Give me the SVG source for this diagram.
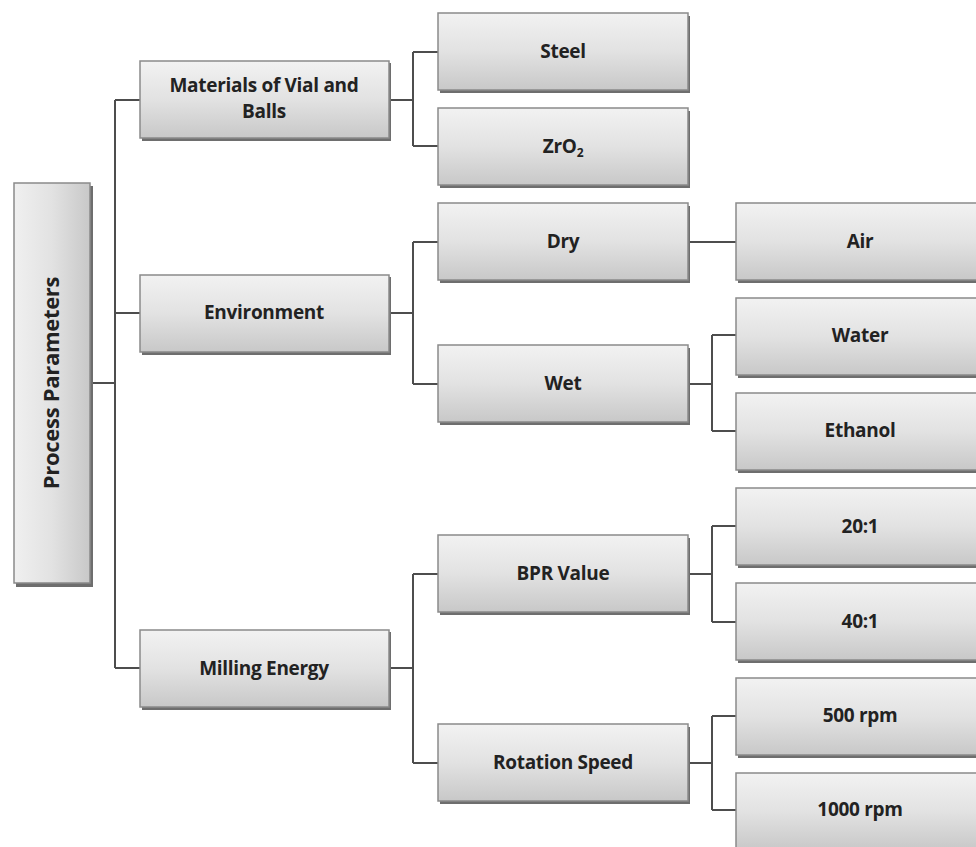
<svg xmlns="http://www.w3.org/2000/svg" width="976" height="847" viewBox="0 0 976 847">
<defs>
<linearGradient id="g" x1="0" y1="0" x2="0" y2="1">
<stop offset="0" stop-color="#f2f2f2"/>
<stop offset="0.5" stop-color="#e2e2e2"/>
<stop offset="1" stop-color="#c8c8c8"/>
</linearGradient>
<linearGradient id="gr" x1="0" y1="0" x2="1" y2="0">
<stop offset="0" stop-color="#f0f0f0"/>
<stop offset="0.5" stop-color="#e2e2e2"/>
<stop offset="1" stop-color="#c8c8c8"/>
</linearGradient>
</defs>
<style>
.sh{fill:#6e6e6e;}
.bx{fill:url(#g);stroke:#8a8a8a;stroke-width:1.5;}
.t{font-family:"Open Sans","Liberation Sans",sans-serif;font-weight:bold;font-size:19px;fill:#222222;text-anchor:middle;letter-spacing:-0.3px;}
.c{fill:none;stroke:#4d4d4d;stroke-width:2;}
</style>
<rect width="976" height="847" fill="#ffffff"/>
<g id="connectors">
<path class="c" d="M91 383 H115 M115 100 V668 M115 100 H140 M115 313 H140 M115 668 H140"/>
<path class="c" d="M389 100 H413 M413 52 V146 M413 52 H438 M413 146 H438"/>
<path class="c" d="M389 313 H413 M413 242 V384 M413 242 H438 M413 384 H438"/>
<path class="c" d="M389 668 H413 M413 574 V763 M413 574 H438 M413 763 H438"/>
<path class="c" d="M688 242 H736"/>
<path class="c" d="M688 384 H712 M712 335 V431 M712 335 H736 M712 431 H736"/>
<path class="c" d="M688 574 H712 M712 526 V622 M712 526 H736 M712 622 H736"/>
<path class="c" d="M688 763 H712 M712 716 V810 M712 716 H736 M712 810 H736"/>
</g>
<g id="root">
<rect class="sh" x="16" y="186" width="77" height="401"/>
<rect x="14" y="183" width="76" height="400" fill="url(#gr)" stroke="#8a8a8a" stroke-width="1.5"/>
<text class="t" transform="translate(52 383) rotate(-90)" dy="7" style="font-size:22px">Process Parameters</text>
</g>
<g id="materials">
<rect class="sh" x="142" y="63" width="249" height="78"/>
<rect class="bx" x="140" y="61" width="249" height="77"/>
<text class="t" x="264" y="92">Materials of Vial and</text>
<text class="t" x="264" y="118">Balls</text>
</g>
<g id="environment">
<rect class="sh" x="142" y="277" width="249" height="78"/>
<rect class="bx" x="140" y="275" width="249" height="77"/>
<text class="t" x="264" y="319">Environment</text>
</g>
<g id="milling">
<rect class="sh" x="142" y="632" width="249" height="78"/>
<rect class="bx" x="140" y="630" width="249" height="77"/>
<text class="t" x="264" y="675">Milling Energy</text>
</g>
<g id="steel">
<rect class="sh" x="440" y="16" width="250" height="77"/>
<rect class="bx" x="438" y="13" width="250" height="77"/>
<text class="t" x="563" y="58">Steel</text>
</g>
<g id="zro2">
<rect class="sh" x="440" y="111" width="250" height="77"/>
<rect class="bx" x="438" y="108" width="250" height="77"/>
<text class="t" x="563" y="153">ZrO<tspan font-size="12" dy="4">2</tspan></text>
</g>
<g id="dry">
<rect class="sh" x="440" y="206" width="250" height="77"/>
<rect class="bx" x="438" y="203" width="250" height="77"/>
<text class="t" x="563" y="248">Dry</text>
</g>
<g id="wet">
<rect class="sh" x="440" y="348" width="250" height="77"/>
<rect class="bx" x="438" y="345" width="250" height="77"/>
<text class="t" x="563" y="390">Wet</text>
</g>
<g id="bpr">
<rect class="sh" x="440" y="538" width="250" height="77"/>
<rect class="bx" x="438" y="535" width="250" height="77"/>
<text class="t" x="563" y="580">BPR Value</text>
</g>
<g id="rotation">
<rect class="sh" x="440" y="727" width="250" height="77"/>
<rect class="bx" x="438" y="724" width="250" height="77"/>
<text class="t" x="563" y="769">Rotation Speed</text>
</g>
<g id="air">
<rect class="sh" x="738" y="206" width="250" height="77"/>
<rect class="bx" x="736" y="203" width="250" height="77"/>
<text class="t" x="860" y="248">Air</text>
</g>
<g id="water">
<rect class="sh" x="738" y="301" width="250" height="77"/>
<rect class="bx" x="736" y="298" width="250" height="77"/>
<text class="t" x="860" y="342">Water</text>
</g>
<g id="ethanol">
<rect class="sh" x="738" y="396" width="250" height="77"/>
<rect class="bx" x="736" y="393" width="250" height="77"/>
<text class="t" x="860" y="437">Ethanol</text>
</g>
<g id="r20">
<rect class="sh" x="738" y="491" width="250" height="77"/>
<rect class="bx" x="736" y="488" width="250" height="77"/>
<text class="t" x="860" y="533">20:1</text>
</g>
<g id="r40">
<rect class="sh" x="738" y="586" width="250" height="77"/>
<rect class="bx" x="736" y="583" width="250" height="77"/>
<text class="t" x="860" y="628">40:1</text>
</g>
<g id="rpm500">
<rect class="sh" x="738" y="681" width="250" height="77"/>
<rect class="bx" x="736" y="678" width="250" height="77"/>
<text class="t" x="860" y="722">500 rpm</text>
</g>
<g id="rpm1000">
<rect class="sh" x="738" y="776" width="250" height="77"/>
<rect class="bx" x="736" y="773" width="250" height="77"/>
<text class="t" x="860" y="816">1000 rpm</text>
</g>
</svg>
